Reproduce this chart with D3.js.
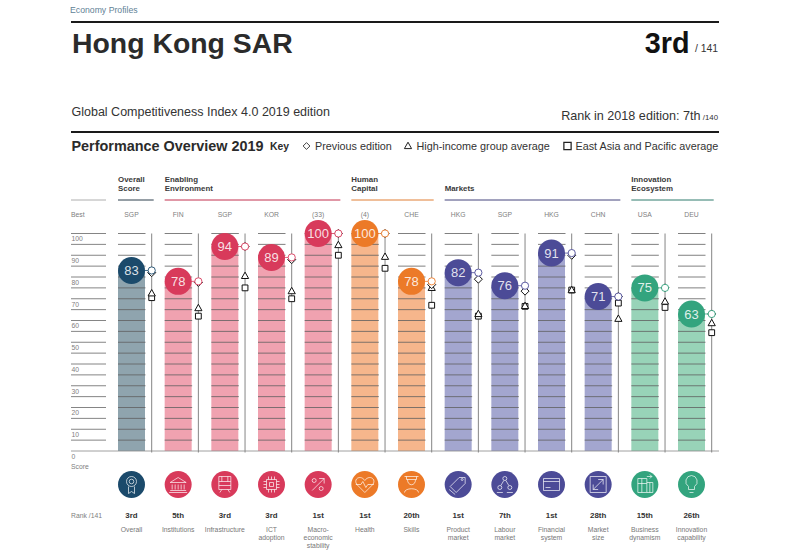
<!DOCTYPE html>
<html>
<head>
<meta charset="utf-8">
<script src="https://cdnjs.cloudflare.com/ajax/libs/d3/7.8.5/d3.min.js"></script>
<style>
	html, body { margin: 0; padding: 0; background: #fff; }
	text { font-family: "Liberation Sans", Arial, sans-serif; }
</style>
</head>
<body>
<svg id="chart" width="789" height="556"></svg>
<script>
var pillars = ["Overall", "Institutions", "Infrastructure", "ICT adoption", "Macro- economic stability", "Health", "Skills", "Product market", "Labour market", "Financial system", "Market size", "Business dynamism", "Innovation capability"];
var pillarLines = [["Overall"], ["Institutions"], ["Infrastructure"], ["ICT", "adoption"], ["Macro-", "economic", "stability"], ["Health"], ["Skills"], ["Product", "market"], ["Labour", "market"], ["Financial", "system"], ["Market", "size"], ["Business", "dynamism"], ["Innovation", "capability"]];
var pillarGroup = ["overall", "enabling", "enabling", "enabling", "enabling", "human", "human", "markets", "markets", "markets", "markets", "innovation", "innovation"];
var best = ["SGP", "FIN", "SGP", "KOR", "(33)", "(4)", "CHE", "HKG", "SGP", "HKG", "CHN", "USA", "DEU"];
var score = [83, 78, 94, 89, 100, 100, 78, 82, 76, 91, 71, 75, 63];
var previous = [82, 77.5, 94, 88, 100, 100, 76.5, 79, 73.5, 90, 71, 75, 63];
var highIncome = [72.5, 65.7, 80.5, 73.5, 94.7, 89.3, 75, 63, 66.7, 74, 60.8, 68.7, 58.8];
var eastAsia = [70.5, 62, 75, 70, 90, 84, 67, 62, 66.5, 74, 68, 66, 54.4];
var rank = ["3rd", "5th", "3rd", "3rd", "1st", "1st", "20th", "1st", "7th", "1st", "28th", "15th", "26th"];
var axisLabels = [100, 90, 80, 70, 60, 50, 40, 30, 20, 10];
var gridValues = d3.range(5, 101, 5);

var groupNames = {overall: ["Overall", "Score"], enabling: ["Enabling", "Environment"], human: ["Human", "Capital"], markets: ["Markets"], innovation: ["Innovation", "Ecosystem"]};
var dark = {overall: "#1b4a6b", enabling: "#d83a5b", human: "#ec7a28", markets: "#4c4b97", innovation: "#33a47e"};
var light = {overall: "#8fa4ae", enabling: "#f0a2b0", human: "#f6b68c", markets: "#a3a6cf", innovation: "#98d3b8"};
var rules = {overall: "#2c3e4c", enabling: "#c2304f", human: "#e07f34", markets: "#45447c", innovation: "#2f7a6c"};

// white line icons, drawn around the centre of each circle
var icons = [
	"M-5,-3a5,5 0 1,0 10,0a5,5 0 1,0 -10,0M-2.3,-3a2.3,2.3 0 1,0 4.6,0a2.3,2.3 0 1,0 -4.6,0M-3,2V9L0,7L3,9V2",
	"M-8,-2L0,-7L8,-2ZM-6,0V5M-3,0V5M0,0V5M3,0V5M6,0V5M-8,6H8M-9,8H9",
	"M-6,-8H6V5H-6ZM-6,-3H6M-6,1H6M-3,-8V-3M3,-8V-3M-5,8L-3,5M5,8L3,5",
	"M-5,-5H5V5H-5ZM-2,-2H2V2H-2ZM-3,-8V-5M0,-8V-5M3,-8V-5M-3,5V8M0,5V8M3,5V8M-8,-3H-5M-8,0H-5M-8,3H-5M5,-3H8M5,0H8M5,3H8",
	"M-6,6L6,-6M1,-6H6V-1M-6,-4a2,2 0 1,0 4,0a2,2 0 1,0 -4,0M1,4a2,2 0 1,0 4,0a2,2 0 1,0 -4,0",
	"M0,8L-8,0C-12,-6 -4,-10 0,-4C4,-10 12,-6 8,0ZM-9,0H-4L-2,-3L1,3L3,0H9",
	"M-7,-8L7,-8M-5,-8V-5H5V-8M-4,-5C-4,2 4,2 4,-5M-7,8C-7,3 7,3 7,8",
	"M-8,2L1,-7H7V-1L-2,8ZM3,-5a1,1 0 1,0 2,0a1,1 0 1,0 -2,0M-9,5L-3,10",
	"M-2,-6a2,2 0 1,0 4,0a2,2 0 1,0 -4,0M-7,3a2,2 0 1,0 4,0a2,2 0 1,0 -4,0M3,3a2,2 0 1,0 4,0a2,2 0 1,0 -4,0M-1,-4L-4,1M1,-4L4,1M-8,8H-2M2,8H8",
	"M-8,-6H8V6H-8ZM-8,-3H8M-6,3H-1",
	"M-8,-8H8V8H-8ZM-5,5L5,-5M0,-5H5V0M-5,0V5H0",
	"M-7,-6H2V8H-7ZM-3,-6V8M-7,-1H2M2,-2H8V8H2M5,-2V8M2,-8H7M5,-10L7,-8L5,-6",
	"M0,-9a6,6 0 0,1 3,11V5H-3V2a6,6 0 0,1 3,-11ZM-2,8H2"
];

var svg = d3.select("#chart");

// scales
var x = d3.scalePoint().domain(pillars).range([131.5, 691.5]);
var y = d3.scaleLinear().domain([0, 100]).range([451, 233.5]);
var barW = 27;
var markerOffset = 20.2;
var scoreR = 13.5;

function addText(px, py, str, size, opts) {
	opts = opts || {};
	return svg.append("text")
		.attr("x", px).attr("y", py)
		.attr("font-size", size)
		.attr("fill", opts.fill || "#333")
		.attr("font-weight", opts.bold ? "bold" : "normal")
		.attr("text-anchor", opts.anchor || "start")
		.text(str);
}

function hline(x1, x2, py, color, w) {
	svg.append("line").attr("x1", x1).attr("x2", x2).attr("y1", py).attr("y2", py)
		.attr("stroke", color).attr("stroke-width", w);
}

function drawMarker(sel, kind, mx, my, color, k) {
	var path;
	if (kind == "diamond") path = "M0,-4L4,0L0,4L-4,0Z";
	if (kind == "triangle") path = "M0,-3.8L3.6,2.6H-3.6Z";
	if (kind == "square") path = "M-2.9,-2.9H2.9V2.9H-2.9Z";
	sel.append("path")
		.attr("d", path)
		.attr("transform", "translate(" + mx + "," + my + ") scale(" + (k || 1) + ")")
		.attr("fill", "#fff")
		.attr("stroke", color)
		.attr("stroke-width", 1);
}

// header
addText(70, 13, "Economy Profiles", 8.7, {fill: "#5f8296"});
hline(71, 719, 22, "#1a1a1a", 1.8);
addText(72, 52.5, "Hong Kong SAR", 28.4, {bold: true, fill: "#2b2b2b"});
addText(689.5, 52.5, "3rd", 28.8, {bold: true, fill: "#111", anchor: "end"});
addText(718, 52, "/ 141", 10.4, {anchor: "end"});
addText(71.5, 116, "Global Competitiveness Index 4.0 2019 edition", 12.5);
addText(700.5, 120, "Rank in 2018 edition: 7th", 12.6, {anchor: "end"});
addText(718, 119.5, "/140", 7.8, {anchor: "end"});
hline(71, 719, 132, "#1a1a1a", 1.8);
addText(71.5, 151, "Performance Overview 2019", 14.4, {bold: true, fill: "#2b2b2b"});
addText(270, 150, "Key", 10.4, {bold: true, fill: "#2b2b2b"});

// legend
var legend = [
	{kind: "diamond", mx: 306.5, tx: 315, label: "Previous edition", k: 0.85},
	{kind: "triangle", mx: 408, tx: 416.5, label: "High-income group average", k: 1},
	{kind: "square", mx: 567.5, tx: 575.5, label: "East Asia and Pacific average", k: 1.25}
];
legend.forEach(function(l) {
	drawMarker(svg, l.kind, l.mx, 146, "#222", l.k);
	addText(l.tx, 150, l.label, 10.8, {fill: "#333"});
});

// group headings and their rules
var groupKeys = Object.keys(groupNames);
hline(71, 106, 200, "#9a9a9a", 0.8);
groupKeys.forEach(function(g) {
	var idx = pillars.filter(function(p, i) { return pillarGroup[i] == g; });
	var left = x(idx[0]) - barW / 2;
	var right = x(idx[idx.length - 1]) + markerOffset + 2;
	hline(left, right, 200, rules[g], 1);
	var lines = groupNames[g];
	lines.forEach(function(line, i) {
		addText(left, 200 - 9 * (lines.length - i), line, 7.9, {bold: true, fill: "#3a3a3a"});
	});
});

addText(71, 216.5, "Best", 6.8, {fill: "#808080"});
axisLabels.forEach(function(v) {
	addText(71.5, y(v) + 7.8, v, 6.8, {fill: "#808080"});
});
addText(71.5, 458.5, "0", 6.8, {fill: "#808080"});
addText(71, 468.5, "Score", 6.8, {fill: "#808080"});
addText(71, 518, "Rank /141", 6.8, {fill: "#808080"});

// grid stub beside the axis labels
gridValues.forEach(function(v) {
	hline(71, 106, y(v), "#666", 0.8);
});

// bars, then the grid lines through them
var cols = svg.selectAll("g.col").data(pillars).enter().append("g").attr("class", "col");

cols.append("rect")
	.attr("x", function(d) { return x(d) - barW / 2; })
	.attr("width", barW)
	.attr("y", function(d, i) { return y(score[i]); })
	.attr("height", function(d, i) { return y(0) - y(score[i]); })
	.attr("fill", function(d, i) { return light[pillarGroup[i]]; });

cols.each(function(d) {
	var g = d3.select(this);
	gridValues.forEach(function(v) {
		g.append("line")
			.attr("x1", x(d) - barW / 2).attr("x2", x(d) + barW / 2 + 0.5)
			.attr("y1", y(v)).attr("y2", y(v))
			.attr("stroke", "#5f5f5f").attr("stroke-width", 0.8);
	});
});

hline(71, 719, y(0), "#888", 0.8);

// line carrying the markers
cols.append("line")
	.attr("x1", function(d) { return x(d) + markerOffset; })
	.attr("x2", function(d) { return x(d) + markerOffset; })
	.attr("y1", y(100))
	.attr("y2", y(0) + 1.5)
	.attr("stroke", "#777").attr("stroke-width", 0.9);

cols.each(function(d, i) {
	var g = d3.select(this);
	var mx = x(d) + markerOffset;
	drawMarker(g, "square", mx, y(eastAsia[i]), "#111");
	drawMarker(g, "triangle", mx, y(highIncome[i]), "#111");
	drawMarker(g, "diamond", mx, y(previous[i]), "#111");
	var c = dark[pillarGroup[i]];
	g.append("line")
		.attr("x1", x(d) + scoreR - 1).attr("x2", mx)
		.attr("y1", y(score[i])).attr("y2", y(score[i]))
		.attr("stroke", c).attr("stroke-width", 0.8);
	g.append("circle")
		.attr("cx", mx).attr("cy", y(score[i])).attr("r", 3.6)
		.attr("fill", "#fff").attr("stroke", c).attr("stroke-width", 0.9);
});

// score bubbles
cols.append("circle")
	.attr("cx", function(d) { return x(d); })
	.attr("cy", function(d, i) { return y(score[i]); })
	.attr("r", scoreR)
	.attr("fill", function(d, i) { return dark[pillarGroup[i]]; });

cols.append("text")
	.attr("x", function(d) { return x(d); })
	.attr("y", function(d, i) { return y(score[i]) + 4.6; })
	.attr("text-anchor", "middle")
	.attr("font-size", 13)
	.attr("fill", "#fff")
	.attr("fill-opacity", 0.85)
	.text(function(d, i) { return score[i]; });

// best performer codes
cols.append("text")
	.attr("x", function(d) { return x(d); })
	.attr("y", 216.5)
	.attr("text-anchor", "middle")
	.attr("font-size", 6.8)
	.attr("fill", "#808080")
	.text(function(d, i) { return best[i]; });

// icon row
cols.append("circle")
	.attr("cx", function(d) { return x(d); })
	.attr("cy", 484.5)
	.attr("r", scoreR)
	.attr("fill", function(d, i) { return dark[pillarGroup[i]]; });

cols.append("path")
	.attr("d", function(d, i) { return icons[i]; })
	.attr("transform", function(d) { return "translate(" + x(d) + ",484.5)"; })
	.attr("fill", "none")
	.attr("stroke", "#fff")
	.attr("stroke-opacity", 0.85)
	.attr("stroke-width", 0.8);

// ranks and pillar names
cols.append("text")
	.attr("x", function(d) { return x(d); })
	.attr("y", 518)
	.attr("text-anchor", "middle")
	.attr("font-size", 7.9)
	.attr("font-weight", "bold")
	.attr("fill", "#333")
	.text(function(d, i) { return rank[i]; });

cols.each(function(d, i) {
	var g = d3.select(this);
	pillarLines[i].forEach(function(line, k) {
		g.append("text")
			.attr("x", x(d))
			.attr("y", 532 + k * 8)
			.attr("text-anchor", "middle")
			.attr("font-size", 6.8)
			.attr("fill", "#777")
			.text(line);
	});
});
</script>
</body>
</html>
